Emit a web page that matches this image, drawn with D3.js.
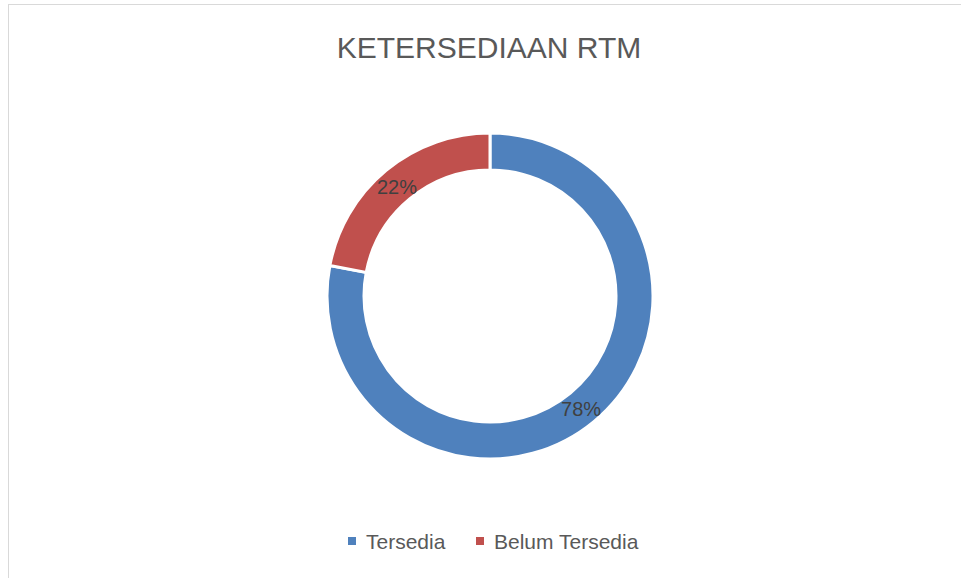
<!DOCTYPE html>
<html>
<head>
<meta charset="utf-8">
<script src="https://cdn.jsdelivr.net/npm/d3@7"></script>
<style>
  body { margin: 0; background: #fff; }
  text { font-family: "Liberation Sans", Arial, sans-serif; }
</style>
</head>
<body>
<svg class="chart"></svg>
<script>
// data
let categories = ["Tersedia", "Belum Tersedia"]
let values = [78, 22]
let colors = ["#4F81BD", "#C0504D"]
let title = "KETERSEDIAAN RTM"

let width = 961
let height = 578

const center = {x: 490, y: 296}
const outerR = 163
const innerR = 126

var svg = d3.select(".chart")
    .attr("width", width)
    .attr("height", height)

// chart frame
svg.append("rect")
    .attr("x", 8.5)
    .attr("y", 4.5)
    .attr("width", width)
    .attr("height", height)
    .attr("fill", "#fff")
    .attr("stroke", "#d9d9d9")
    .attr("stroke-width", 1)

// title
svg.append("text")
    .attr("x", center.x - 1)
    .attr("y", 58)
    .attr("text-anchor", "middle")
    .style("font-size", "30px")
    .style("fill", "#595959")
    .text(title)

let data = categories.map((c, i) => ({name: c, value: values[i], color: colors[i]}))

let pie = d3.pie()
    .sort(null)
    .value(d => d.value)

let arc = d3.arc()
    .innerRadius(innerR)
    .outerRadius(outerR)

let g = svg.append("g")
    .attr("transform", `translate(${center.x}, ${center.y})`)

g.selectAll("path.slice")
    .data(pie(data))
    .enter()
    .append("path")
    .classed("slice", true)
    .attr("d", arc)
    .attr("fill", d => d.data.color)
    .attr("stroke", "#fff")
    .attr("stroke-width", 3)

let total = d3.sum(values)
g.selectAll("text.label")
    .data(pie(data))
    .enter()
    .append("text")
    .classed("label", true)
    .attr("x", d => arc.centroid(d)[0] - 1)
    .attr("y", d => arc.centroid(d)[1] + 2)
    .attr("dy", "0.35em")
    .attr("text-anchor", "middle")
    .style("font-size", "20px")
    .style("fill", "#404040")
    .text(d => Math.round(d.data.value / total * 100) + "%")

// legend
let legendX = [348, 476]
let legend = svg.append("g")
    .selectAll("g.item")
    .data(data)
    .enter()
    .append("g")
    .classed("item", true)
    .attr("transform", (d, i) => `translate(${legendX[i]}, 549)`)

legend.append("rect")
    .attr("x", 0)
    .attr("y", -12)
    .attr("width", 8)
    .attr("height", 8)
    .attr("fill", d => d.color)

legend.append("text")
    .attr("x", 18)
    .attr("y", 0)
    .style("font-size", "21px")
    .style("fill", "#595959")
    .text(d => d.name)
</script>
</body>
</html>
